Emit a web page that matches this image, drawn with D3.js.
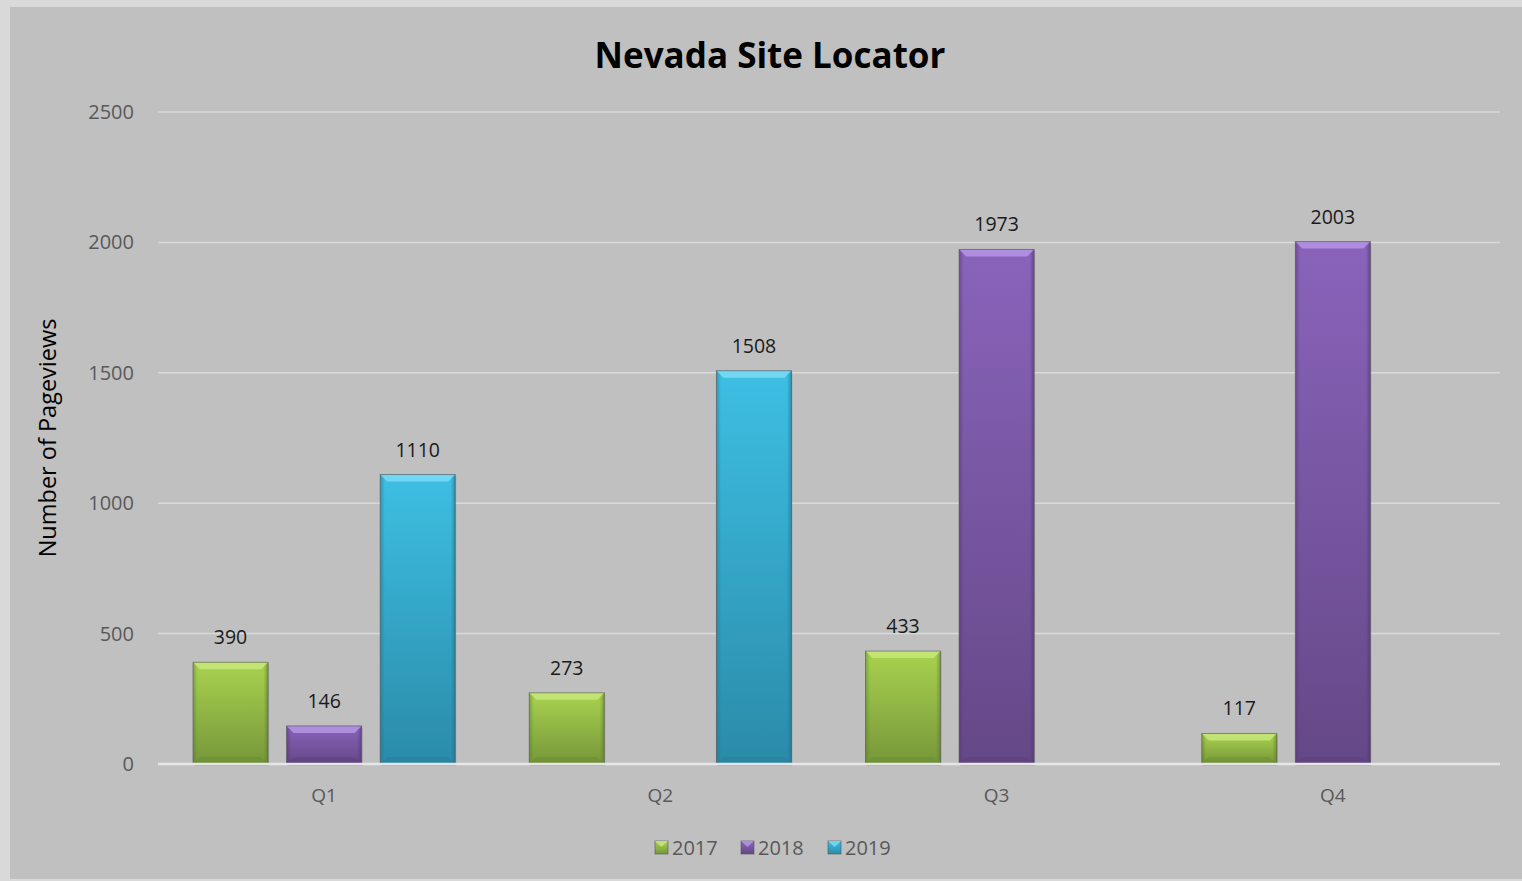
<!DOCTYPE html>
<html><head><meta charset="utf-8">
<script src="https://cdn.jsdelivr.net/npm/d3@7"></script>
<style>html,body{margin:0;padding:0;background:#d9d9d9;}svg{display:block;}</style>
</head><body>
<script>
const quarters = ["Q1","Q2","Q3","Q4"];
const years = ["2017","2018","2019"];
const values2017 = [390, 273, 433, 117];
const values2018 = [146, null, 1973, 2003];
const values2019 = [1110, 1508, null, null];
const yTicks = [0, 500, 1000, 1500, 2000, 2500];
const seriesValues = [values2017, values2018, values2019];
const colors = {
  "2017": {top:"#a9d24f", mid:"#93bc3f", bot:"#76973a", hi:"#c6e77a", dark:"#5d7a27"},
  "2018": {top:"#8a63bb", mid:"#7a57a6", bot:"#654887", hi:"#b595e6", dark:"#4f3570"},
  "2019": {top:"#3dbfe3", mid:"#34a9cb", bot:"#2b8ba9", hi:"#7adcf6", dark:"#1f6f88"}
};

const W = 1522, H = 881;
const svg = d3.select("body").append("svg").attr("width", W).attr("height", H);
svg.append("rect").attr("x",10).attr("y",7).attr("width",W-10).attr("height",H-9).attr("fill","#c0c0c0");

const x0 = d3.scaleBand().domain(quarters).range([156,1501]).padding(0);
const x1 = d3.scaleBand().domain(years).range([37, x0.bandwidth()-37]).paddingInner(0.198).paddingOuter(0);
const y = d3.scaleLinear().domain([0,2500]).range([764,112]);

const defs = svg.append("defs");
years.forEach(yr => {
  const c = colors[yr];
  const g = defs.append("linearGradient").attr("id","g"+yr).attr("x1",0).attr("x2",0).attr("y1",0).attr("y2",1);
  g.append("stop").attr("offset","0%").attr("stop-color",c.top);
  g.append("stop").attr("offset","100%").attr("stop-color",c.bot);
  const h = defs.append("linearGradient").attr("id","h"+yr).attr("x1",0).attr("x2",1).attr("y1",0).attr("y2",0);
  h.append("stop").attr("offset","0%").attr("stop-color",c.dark).attr("stop-opacity",0.5);
  h.append("stop").attr("offset","6%").attr("stop-color",c.dark).attr("stop-opacity",0);
  h.append("stop").attr("offset","94%").attr("stop-color",c.dark).attr("stop-opacity",0);
  h.append("stop").attr("offset","100%").attr("stop-color",c.dark).attr("stop-opacity",0.6);
});

// gridlines
svg.append("g").selectAll("line").data(yTicks.slice(1)).join("line")
  .attr("x1",158).attr("x2",1500).attr("y1",d=>y(d)).attr("y2",d=>y(d))
  .attr("stroke","#d9d9d9").attr("stroke-width",1.5);

// y axis labels
svg.append("g").selectAll("text").data(yTicks).join("text")
  .attr("x",134).attr("y",d=>y(d)+7).attr("text-anchor","end")
  .attr("font-family","Open Sans, sans-serif").attr("font-size",20).attr("fill","#595959")
  .text(d=>d);

// axis title
svg.append("text").attr("transform","translate(56,438) rotate(-90)").attr("text-anchor","middle")
  .attr("font-family","Open Sans, sans-serif").attr("font-size",23.5).attr("fill","#000")
  .text("Number of Pageviews");

// title
svg.append("text").attr("x",770).attr("y",68).attr("text-anchor","middle")
  .attr("font-family","Open Sans, sans-serif").attr("font-weight",700).attr("font-size",35).attr("fill","#000")
  .text("Nevada Site Locator");

// bars
const data = [];
quarters.forEach((q,qi)=>years.forEach((yr,yi)=>{
  const v = seriesValues[yi][qi];
  if (v != null && v > 0) data.push({q, yr, v});
}));
const bars = svg.append("g").selectAll("g").data(data).join("g")
  .attr("transform", d=>`translate(${x0(d.q)+x1(d.yr)},0)`);
const bw = x1.bandwidth();
const bev = 7;
bars.each(function(d){
  const g = d3.select(this);
  const c = colors[d.yr];
  const yt = y(d.v), yb = y(0), h = yb-yt;
  const b = Math.min(bev, h/2);
  g.append("rect").attr("x",1).attr("y",yt+2).attr("width",bw).attr("height",h).attr("fill","#000").attr("opacity",0.12);
  g.append("rect").attr("x",0).attr("y",yt).attr("width",bw).attr("height",h).attr("fill",`url(#g${d.yr})`);
  g.append("rect").attr("x",0).attr("y",yt).attr("width",bw).attr("height",h).attr("fill",`url(#h${d.yr})`);
  g.append("path").attr("d",`M0,${yt}L${bw},${yt}L${bw-b},${yt+b}L${b},${yt+b}Z`).attr("fill",c.hi).attr("opacity",0.85);
  g.append("path").attr("d",`M0,${yb}L${bw},${yb}L${bw-b},${yb-b}L${b},${yb-b}Z`).attr("fill",c.dark).attr("opacity",0.25);
  g.append("rect").attr("x",0).attr("y",yt).attr("width",bw).attr("height",h)
    .attr("fill","none").attr("stroke","#555").attr("stroke-opacity",0.6).attr("stroke-width",1);
});

// baseline
svg.append("line").attr("x1",158).attr("x2",1500).attr("y1",y(0)).attr("y2",y(0))
  .attr("stroke","#e6e6e6").attr("stroke-width",2.5);

// data labels
svg.append("g").selectAll("text").data(data).join("text")
  .attr("x", d=>x0(d.q)+x1(d.yr)+bw/2).attr("y", d=>y(d.v)-18)
  .attr("text-anchor","middle").attr("font-family","Open Sans, sans-serif").attr("font-size",19.5).attr("fill","#1a1a1a")
  .text(d=>d.v);

// category labels
svg.append("g").selectAll("text").data(quarters).join("text")
  .attr("x", q=>x0(q)+x0.bandwidth()/2).attr("y",802).attr("text-anchor","middle")
  .attr("font-family","Open Sans, sans-serif").attr("font-size",19).attr("fill","#595959")
  .text(q=>q);

// legend
const leg = svg.append("g");
const legX = [655, 741, 828];
years.forEach((yr,i)=>{
  const c = colors[yr];
  const lg = leg.append("g").attr("transform",`translate(${legX[i]},841)`);
  lg.append("rect").attr("width",13).attr("height",13).attr("fill",`url(#g${yr})`).attr("stroke","#555").attr("stroke-opacity",0.6);
  lg.append("path").attr("d","M0,0L13,0L6.5,6Z").attr("fill",c.hi).attr("opacity",0.85);
  lg.append("text").attr("x",17).attr("y",14).attr("font-family","Open Sans, sans-serif").attr("font-size",20).attr("fill","#595959").text(yr);
});
</script>
</body></html>
